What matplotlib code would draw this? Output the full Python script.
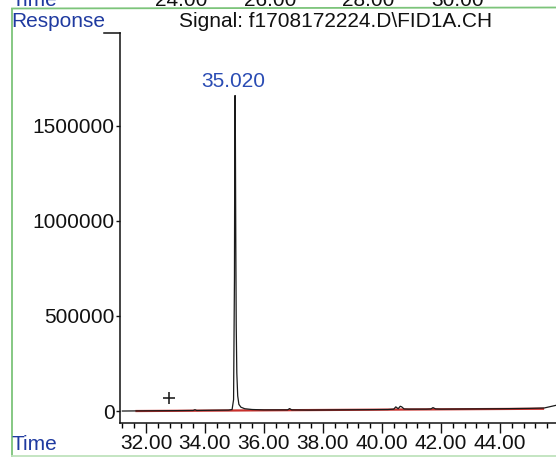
import matplotlib
matplotlib.use('Agg')
import matplotlib.pyplot as plt
from matplotlib.ticker import FixedLocator, MultipleLocator
from matplotlib.lines import Line2D

plt.rcParams['font.family'] = ['Liberation Sans', 'DejaVu Sans']

# ---------------- data ----------------
sig_time = [31.20, 32.00, 33.00, 33.60, 33.66, 33.72, 34.20, 34.80, 34.92, 34.97,
            35.00, 35.01, 35.02, 35.03, 35.045, 35.06, 35.08, 35.11, 35.15, 35.22,
            35.35, 35.60, 36.00, 36.50, 36.80, 36.87, 36.94, 37.50, 38.50, 39.50,
            40.20, 40.40, 40.47, 40.55, 40.62, 40.67, 40.75, 40.90, 41.50, 41.66,
            41.73, 41.82, 42.00, 43.00, 44.00, 45.00, 45.50, 45.90]
sig_resp = [0, 1000, 2000, 3000, 7000, 3000, 4000, 5000, 8000, 60000,
            700000, 1400000, 1660000, 1500000, 900000, 450000, 200000, 80000, 35000, 20000,
            12000, 8000, 6000, 6000, 6000, 13000, 6000, 5000, 6000, 7000,
            8000, 10000, 22000, 12000, 25000, 22000, 11000, 10000, 10000, 11000,
            18000, 11000, 10000, 11000, 12000, 14000, 16000, 30000]

base_time = [31.68, 45.46]
base_resp = [0, 12000]

peak_time = 35.020
peak_resp = 1660000
peak_label = "35.020"

mark_time = [32.78]
mark_resp = [70000]

x_ticks = [32, 34, 36, 38, 40, 42, 44]
x_tick_labels = ["32.00", "34.00", "36.00", "38.00", "40.00", "42.00", "44.00"]
y_ticks = [0, 500000, 1000000, 1500000]
y_tick_labels = ["0", "500000", "1000000", "1500000"]

top_labels = ["24.00", "26.00", "28.00", "30.00"]

title = "Signal: f1708172224.D\\FID1A.CH"

# ---------------- figure ----------------
W, H = 556, 457
fig = plt.figure(figsize=(W / 100, H / 100), dpi=100)
fig.patch.set_facecolor('white')

def fx(px):
    return px / W

def fy(py):
    return 1 - py / H

blue = '#1f3aa0'
green = '#7cc47a'
fs = 15

ax = fig.add_axes([fx(120), fy(423), fx(556) - fx(120), fy(33) - fy(423)])
ax.plot(sig_time, sig_resp, color='#1a1a1a', lw=0.9, zorder=3)
ax.plot(base_time, base_resp, color='#c8302c', lw=1.6, zorder=2)
ax.plot(mark_time, mark_resp, marker='+', color='#222222', ms=8, mew=1.2, ls='none')
ax.annotate(peak_label, (peak_time, peak_resp), xytext=(-1, 3), textcoords='offset points',
            ha='center', va='bottom', color='#2a4cb4', fontsize=fs)

ax.set_xlim(31.12, 45.90)
ax.set_ylim(-63000, 1989000)
for s in ['top', 'right']:
    ax.spines[s].set_visible(False)
for s in ['left', 'bottom']:
    ax.spines[s].set_linewidth(1.1)
    ax.spines[s].set_color('#111111')

ax.xaxis.set_major_locator(FixedLocator(x_ticks))
ax.set_xticklabels(x_tick_labels)
ax.xaxis.set_minor_locator(MultipleLocator(0.4))
ax.tick_params(axis='x', which='major', length=7.5, width=1.0, pad=0.5, labelsize=fs, colors='#111111')
ax.tick_params(axis='x', which='minor', length=3.8, width=1.0)
ax.yaxis.set_major_locator(FixedLocator(y_ticks))
ax.set_yticklabels(y_tick_labels)
ax.tick_params(axis='y', which='major', length=3, width=1.0, pad=1, labelsize=fs, colors='#111111')

# header / footer texts
fig.text(fx(11), fy(27), "Response", color=blue, fontsize=fs, ha='left', va='baseline')
fig.text(fx(336), fy(27), title, color='#111111', fontsize=fs, ha='center', va='baseline')
fig.text(fx(12), fy(450), "Time", color=blue, fontsize=fs, ha='left', va='baseline')
fig.text(fx(12), fy(6), "Time", color=blue, fontsize=fs, ha='left', va='baseline')
for lab, px in zip(top_labels, [181, 270, 368, 458]):
    fig.text(fx(px), fy(6), lab, color='#111111', fontsize=fs, ha='center', va='baseline')

fig.add_artist(Line2D([fx(104), fx(120)], [fy(33), fy(33)], color='#111111', lw=1.1))

# green frame lines
fig.add_artist(Line2D([fx(12), fx(12)], [fy(9), fy(457)], color=green, lw=1.3))
fig.add_artist(Line2D([fx(12), fx(556)], [fy(8.5), fy(7.5)], color=green, lw=1.3))
fig.add_artist(Line2D([fx(12), fx(556)], [fy(456), fy(456)], color='#bfe3bd', lw=1.3))

fig.savefig('out.png', dpi=100, facecolor='white')
